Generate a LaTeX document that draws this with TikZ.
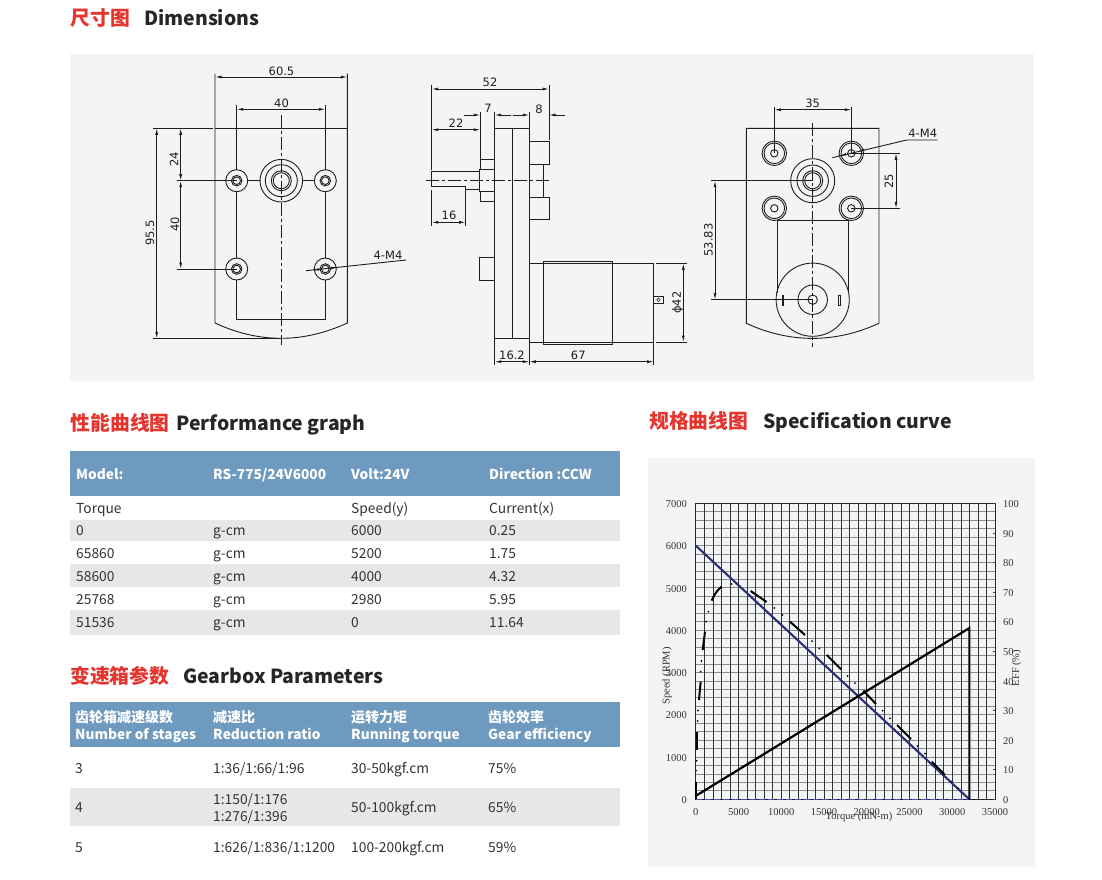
\documentclass[tikz,border=0pt]{standalone}
\usepackage{fontspec}
\setmainfont{Noto Sans CJK SC}
\newfontfamily\timesf{Liberation Serif}
\newfontfamily\cadf{DejaVu Sans}
\usetikzlibrary{arrows.meta}
\definecolor{panel}{HTML}{F3F4F6}
\definecolor{hdr}{HTML}{6F9ABF}
\definecolor{rowg}{HTML}{E6E7E9}
\definecolor{redt}{HTML}{E5352F}
\definecolor{ink}{HTML}{1E1E1E}
\definecolor{txt}{HTML}{333333}
\definecolor{speedc}{HTML}{2E2E78}
\tikzset{
  cad/.style={draw=ink,line width=0.9pt},
  dimline/.style={draw=ink,line width=0.85pt,{Latex[length=6.5pt,width=3pt]}-{Latex[length=6.5pt,width=3pt]}},
  oneside/.style={draw=ink,line width=0.85pt,{Latex[length=6.5pt,width=3pt]}-},
  center line/.style={draw=ink,line width=0.8pt,dash pattern=on 13pt off 3pt on 3pt off 3pt},
  dimtext/.style={inner sep=0pt,text=ink,font=\cadf\fontsize{11.5}{11.5}\selectfont},
  redhead/.style={inner sep=0pt,anchor=base west,yshift=-7pt,text=redt,font=\bfseries\fontsize{19.8}{19.8}\selectfont},
  blackhead/.style={inner sep=0pt,anchor=base west,yshift=-7pt,text=black!85,font=\bfseries\fontsize{19.4}{19.4}\selectfont},
  cell/.style={inner sep=0pt,anchor=base west,yshift=-5pt,text=txt,font=\fontsize{13.8}{13.8}\selectfont},
  hcell/.style={inner sep=0pt,anchor=base west,yshift=-5pt,text=white,font=\bfseries\fontsize{13.7}{13.7}\selectfont},
  tick/.style={inner sep=0pt,text=txt,font=\timesf\fontsize{10.5}{10.5}\selectfont},
  long dash/.style={draw=black,line width=2pt},
}
\begin{document}
\begin{tikzpicture}[x=1pt,y=-1pt]
\useasboundingbox (0,0) rectangle (1102,879);
\fill[white] (0,0) rectangle (1102,879);
% panels
\fill[panel] (70,54) rectangle (1034,381);
\fill[panel] (648,458) rectangle (1035,867);
% headings
\node[redhead] (h1a) at (70.5,18) {尺寸图};
\node[blackhead] (h1b) at (144,18) {Dimensions};
\node[redhead] (h2a) at (70.5,423) {性能曲线图};
\node[blackhead] (h2b) at (176,423) {Performance graph};
\node[redhead] (h3a) at (70,676) {变速箱参数};
\node[blackhead] (h3b) at (183,676) {Gearbox Parameters};
\node[redhead] (h4a) at (649,421) {规格曲线图};
\node[blackhead] (h4b) at (763,421) {Specification curve};

% ---------- front view
\draw[cad] (215,73.7) -- (215,323) .. controls (259,343.4) and (303,343.4) .. (347.3,323) -- (347.3,73.7);
\draw[cad] (215,128.3) -- (347.3,128.3);
\draw[cad] (152.7,128.3) -- (213,128.3);
\draw[cad] (152.7,338.3) -- (281,338.3);
\draw[cad] (236.7,105) -- (236.7,169.7) (325.3,105) -- (325.3,169.7);
\draw[cad] (236.7,191.7) -- (236.7,258) (325.3,191.7) -- (325.3,258);
\draw[cad] (236.7,280) -- (236.7,319.3) -- (325.3,319.3) -- (325.3,280);
\draw[cad] (247.7,180.7) -- (260,180.7) (302.6,180.7) -- (314.3,180.7);
\draw[cad] (176.7,180.7) -- (236.7,180.7) (176.7,269) -- (236.7,269);
\foreach \x/\y in {236.7/180.7,325.3/180.7,236.7/269,325.3/269}{
  \draw[cad] (\x pt,-\y pt) circle[radius=11pt];
  \draw[cad] (\x pt,-\y pt) circle[radius=5.3pt];
  \draw[cad] (\x pt,-\y pt) circle[radius=3.8pt];
}
\foreach \r in {21.3,16,10,8}{\draw[cad] (281.3pt,-180.7pt) circle[radius=\r pt];}
\draw[center line] (281.3,115) -- (281.3,345);
\draw[dimline] (215,77) -- (347.3,77);
\draw[dimline] (236.7,109.3) -- (325.3,109.3);
\draw[dimline] (156.7,128.3) -- (156.7,338.3);
\draw[dimline] (180.7,128.3) -- (180.7,180.7);
\draw[dimline] (180.7,180.7) -- (180.7,269);
\draw[cad] (306,270.7) -- (406,260);
\fill[ink] (313,270) -- (319,268.2) -- (319,270.6) -- cycle (337,267.4) -- (331,266.9) -- (331,269.3) -- cycle;
\node[dimtext] (f1) at (281.5,71) {60.5};
\node[dimtext] (f2) at (281.5,103.5) {40};
\node[dimtext,rotate=90] (f3) at (150,233) {95.5};
\node[dimtext,rotate=90] (f4) at (174,159) {24};
\node[dimtext,rotate=90] (f5) at (175,224.5) {40};
\node[dimtext] (f6) at (388,255.5) {4-M4};

% ---------- side view
\draw[cad] (494.7,128.3) rectangle (529.3,338.3);
\draw[cad] (512.3,128.3) -- (512.3,338.3);
\draw[cad] (431.7,85) -- (431.7,169.7);
\draw[cad] (549,85) -- (549,140);
\draw[cad] (480.3,111.7) -- (480.3,159.3);
\draw[cad] (494.7,111.7) -- (494.7,128.3);
\draw[cad] (529.3,111.7) -- (529.3,128.3);
\draw[cad] (480.3,159.3) rectangle (494.7,169.3);
\draw[cad] (480.3,191.7) rectangle (494.7,201.7);
\draw[cad] (479.3,169.3) rectangle (494.7,191.7);
\draw[cad] (479.3,171.7) -- (431.7,171.7) -- (431.7,186.7) -- (465.7,186.7) -- (465.7,189.7) -- (479.3,189.7);
\draw[cad] (431.7,190) -- (431.7,225.7) (465.7,190) -- (465.7,225.7);
\draw[center line] (425.7,180.7) -- (551,180.7);
\draw[cad] (529.3,141.7) -- (549,141.7) -- (549,164.3) -- (529.3,164.3);
\draw[cad] (529.3,197) -- (549,197) -- (549,219.3) -- (529.3,219.3);
\draw[cad] (543.3,164.3) -- (543.3,197);
\draw[cad] (494.7,257.7) -- (479.3,257.7) -- (479.3,280.3) -- (494.7,280.3);
\draw[cad] (529.3,263.3) -- (653.7,263.3) -- (653.7,342) -- (529.3,342);
\draw[cad] (543.7,261.7) rectangle (612.7,344.3);
\draw[cad] (653.7,296) rectangle (663.3,303.3);
\draw[cad,line width=0.5pt] (658.5pt,-299.7pt) circle[radius=1.7pt];
\draw[cad] (656,263.3) -- (687.3,263.3) (656,342) -- (687.3,342);
\draw[cad] (494.7,338.3) -- (494.7,365) (529.3,338.3) -- (529.3,365) (653.7,342) -- (653.7,365);
\draw[dimline] (431.7,89) -- (549,89);
\draw[dimline] (431.7,129.7) -- (480.3,129.7);
\draw[dimline] (431.7,222.3) -- (465.7,222.3);
\draw[dimline] (683.3,263.3) -- (683.3,342);
\draw[dimline] (494.7,361.7) -- (529.3,361.7);
\draw[dimline] (529.3,361.7) -- (653.7,361.7);
\draw[oneside] (480.3,115) -- (464,115);
\draw[oneside] (494.7,115) -- (510.7,115);
\draw[oneside] (529.3,115) -- (513.3,115);
\draw[oneside] (549,115) -- (565,115);
\node[dimtext] (s1) at (490,82.5) {52};
\node[dimtext] (s2) at (456,123.5) {22};
\node[dimtext] (s3) at (488,108.5) {7};
\node[dimtext] (s4) at (539,109) {8};
\node[dimtext] (s5) at (449,215.5) {16};
\node[dimtext] (s6) at (512,355) {16.2};
\node[dimtext] (s7) at (578.3,355) {67};
\node[dimtext,rotate=90] (s8) at (677.7,302.7) {ϕ42};

% ---------- rear view
\draw[cad] (746.3,128.3) -- (746.3,323.3) .. controls (790,343.4) and (835,343.4) .. (879,323.3) -- (879,128.3) -- cycle;
\foreach \x/\y in {774.3/153.3,851.3/153.3,774.3/208.3,851.3/208.3}{
  \draw[cad] (\x pt,-\y pt) circle[radius=12.2pt];
  \draw[cad] (\x pt,-\y pt) circle[radius=10.3pt];
  \draw[cad] (\x pt,-\y pt) circle[radius=3.7pt];
}
\foreach \r in {22,15.7,10,8}{\draw[cad] (812.7pt,-180.7pt) circle[radius=\r pt];}
\draw[cad] (777.7,293) -- (777.7,220) -- (848.3,220) -- (848.3,293);
\draw[cad] (812.7pt,-299.7pt) circle[radius=36.6pt];
\draw[cad] (812.7pt,-299.7pt) circle[radius=14.7pt];
\draw[cad] (812.7pt,-299.7pt) circle[radius=4.7pt];
\draw[ink,line width=1.7pt] (782.7,295) -- (782.7,305.7);
\draw[cad,line width=0.6pt] (838,295) rectangle (840.2,305.7);
\draw[center line] (812.7,122.7) -- (812.7,346.7);
\draw[cad] (774.3,106.7) -- (774.3,153.3) (851.3,106.7) -- (851.3,153.3);
\draw[cad] (851.3,153.3) -- (900,153.3) (851.3,208.3) -- (900,208.3);
\draw[cad] (711,180.7) -- (812.7,180.7) (711,299.7) -- (812.7,299.7);
\draw[dimline] (774.3,109.7) -- (851.3,109.7);
\draw[dimline] (896,153.3) -- (896,208.3);
\draw[dimline] (715,180.7) -- (715,299.7);
\draw[cad] (832.3,157.7) -- (906.7,140) -- (937.7,140);
\fill[ink] (858,151.5) -- (864,148.8) -- (864.6,151.1) -- cycle (840,155.9) -- (846,152.9) -- (846.6,155.3) -- cycle;
\node[dimtext] (r1) at (812.7,103.5) {35};
\node[dimtext,rotate=90] (r2) at (889,181) {25};
\node[dimtext,rotate=90] (r3) at (708.5,240) {53.83};
\node[dimtext] (r4) at (922.7,133.3) {4-M4};

% ---------- performance table
\fill[hdr] (70,451) rectangle (620,495.7);
\fill[rowg] (70,520) rectangle (620,541);
\fill[rowg] (70,564) rectangle (620,586.7);
\fill[rowg] (70,610) rectangle (620,635);
\node[hcell] (p1) at (76,474) {Model:};
\node[hcell] (p2) at (213,474) {RS-775/24V6000};
\node[hcell] (p3) at (351,474) {Volt:24V};
\node[hcell] (p4) at (489,474) {Direction :CCW};
\node[cell] (p5) at (76,508) {Torque};
\node[cell] (p6) at (351,508) {Speed(y)};
\node[cell] (p7) at (489,508) {Current(x)};
\foreach \n/\a/\b/\c/\y in {a/0/6000/0.25/530.7,b/65860/5200/1.75/553.7,c/58600/4000/4.32/576.3,d/25768/2980/5.95/599,e/51536/0/11.64/622.7}{
  \node[cell] (q\n1) at (76pt,-\y pt) {\a};
  \node[cell] (q\n2) at (213pt,-\y pt) {g-cm};
  \node[cell] (q\n3) at (351pt,-\y pt) {\b};
  \node[cell] (q\n4) at (489pt,-\y pt) {\c};
}

% ---------- gearbox table
\fill[hdr] (69.5,702.3) rectangle (620,747);
\fill[rowg] (69.5,788.3) rectangle (620,826);
\node[hcell,font=\bfseries\fontsize{14}{14}\selectfont] (g1) at (75,717.3) {齿轮箱减速级数};
\node[hcell] (g2) at (75,734) {Number of stages};
\node[hcell,font=\bfseries\fontsize{14}{14}\selectfont] (g3) at (213,717.3) {减速比};
\node[hcell] (g4) at (213,734) {Reduction ratio};
\node[hcell,font=\bfseries\fontsize{14}{14}\selectfont] (g5) at (351,717.3) {运转力矩};
\node[hcell] (g6) at (351,734) {Running torque};
\node[hcell,font=\bfseries\fontsize{14}{14}\selectfont] (g7) at (488,717.3) {齿轮效率};
\node[hcell] (g8) at (488,734) {Gear efficiency};
\node[cell] (g9) at (75,768) {3};
\node[cell] (g10) at (213,768) {1:36/1:66/1:96};
\node[cell] (g11) at (351,768) {30-50kgf.cm};
\node[cell] (g12) at (488,768) {75\%};
\node[cell] (g13) at (75,807.7) {4};
\node[cell] (g14) at (213,799.7) {1:150/1:176};
\node[cell] (g15) at (213,816) {1:276/1:396};
\node[cell] (g16) at (351,807.7) {50-100kgf.cm};
\node[cell] (g17) at (488,807.7) {65\%};
\node[cell] (g18) at (75,847) {5};
\node[cell] (g19) at (213,847) {1:626/1:836/1:1200};
\node[cell] (g20) at (351,847) {100-200kgf.cm};
\node[cell] (g21) at (488,847) {59\%};

% ---------- chart  x: 695.7..995 for 0..35 (thousand) ; y: 799.3..503.3 for 0..70 (hundred)
\begin{scope}[shift={(695.7pt,-799.3pt)},x=8.5514pt,y=4.2286pt]
  \foreach \v in {2,4,...,70}{\draw[black!45,line width=0.8pt] (0,\v) -- (35,\v);}
  \foreach \u in {1,2,...,35}{\draw[black!80,line width=0.6pt] (\u,0) -- (\u,70);}
  \draw[black!85,line width=0.9pt] (0,0) rectangle (35,70);
  \foreach \v in {0,7,...,70}{\draw[black!70,line width=0.6pt] (35,\v) -- (34.8,\v);}
  \draw[blue!60!black!70,line width=1.2pt,dash pattern=on 6pt off 3pt] (0,0) -- (32,0);
  \draw[speedc,line width=2.1pt] (0,60) -- (32,0);
  \draw[black,line width=2.2pt,line join=miter] (0,0.8) -- (32,40.5) -- (32,0);
\end{scope}
% efficiency curve: long dashes and dots (coordinates are 3x reference pixels from (650,480))
\begin{scope}[shift={(650pt,-480pt)},x=0.33333pt,y=-0.33333pt]
  \draw[long dash] (137,905) -- (137,958);
  \draw[long dash] (141,810) -- (141,755);
  \draw[long dash] (147,660) -- (152,605);
  \draw[long dash] (158,510) -- (165,455);
  \draw[long dash] (185,362) .. controls (192,345) and (203,328) .. (215,320);
  \draw[long dash] (302,333) -- (350,366);
  \draw[long dash] (420,425) -- (465,465);
  \draw[long dash] (530,525) -- (573,568);
  \draw[long dash] (640,632) -- (678,672);
  \draw[long dash] (741,735) -- (783,777);
  \draw[long dash] (845,845) -- (885,885);
  \foreach \px/\py in {140/842,138/872,144/692,143/723,152/575,154/543,168/425,175/395,245/312,373/384,397/405,486/483,508/505,593/588,615/609,698/692,720/715,802/798,825/821,905/905,925/925}{
    \fill[black] (\px,\py) circle[radius=1pt];
  }
\end{scope}
\foreach \v/\y in {0/800,1000/757.7,2000/715.4,3000/673.1,4000/630.9,5000/588.6,6000/546.3,7000/504}{
  \node[tick,anchor=east] (yl\v) at (687pt,-\y pt) {\v};
}
\foreach \v/\y in {0/800,10/770.4,20/740.8,30/711.2,40/681.6,50/652,60/622.4,70/592.8,80/563.2,90/533.6,100/504}{
  \node[tick,anchor=west] (yr\v) at (1003pt,-\y pt) {\v};
}
\foreach \v/\x in {0/695.7,5000/738.5,10000/781.2,15000/824,20000/866.7,25000/909.5,30000/952.3,35000/995}{
  \node[tick] (xl\v) at (\x pt,-812pt) {\v};
}
\node[tick,rotate=90] (ya) at (667,676) {Speed (RPM)};
\node[tick,rotate=90] (yb) at (1016.7,668) {EFF (\%)};
\node[tick] (xa) at (859,817) {Torque (mN-m)};
\end{tikzpicture}
\end{document}
